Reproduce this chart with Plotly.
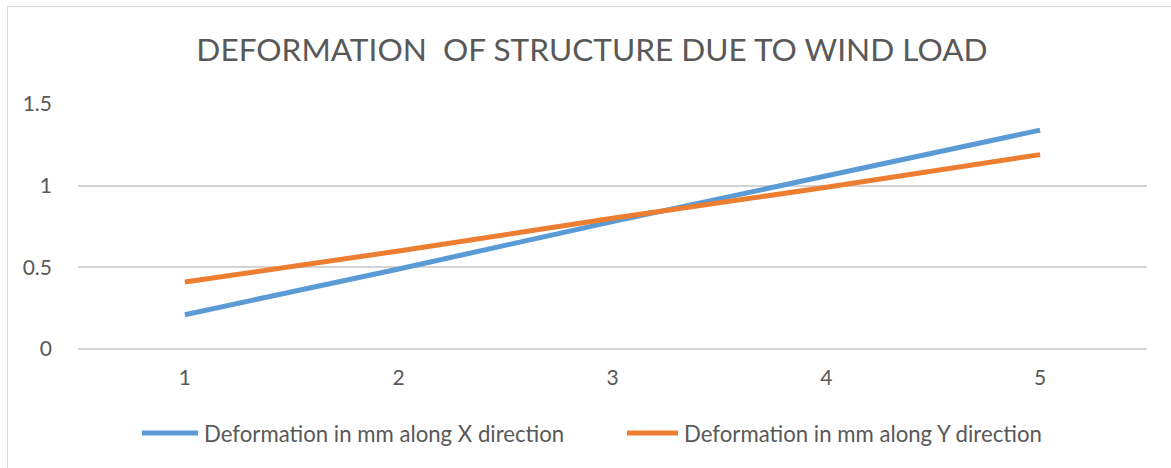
import plotly.graph_objects as go

categories = [1, 2, 3, 4, 5]
series_names = ["Deformation in mm along X direction", "Deformation in mm along Y direction"]
x_dir = [0.21, 0.49, 0.78, 1.06, 1.34]
y_dir = [0.41, 0.60, 0.80, 0.99, 1.19]
colors = ["#5B9BD5", "#ED7D31"]
y_ticks = [0, 0.5, 1, 1.5]
y_tick_text = ["0", "0.5", "1", "1.5"]

W, H = 1171, 468
L, R, T, B = 78, 24, 104, 119
pw, ph = W - L - R, H - T - B

def px_x(p):
    return (p - L) / pw

def px_y(p):
    return (H - B - p) / ph

FONT = "Lato, Carlito, 'Open Sans', sans-serif"
GRAY = "#595959"

fig = go.Figure()
for name, vals, c in zip(series_names, [x_dir, y_dir], colors):
    fig.add_trace(go.Scatter(x=categories, y=vals, mode="lines", name=name,
                             line=dict(color=c, width=5), showlegend=False))

# manual legend (Excel-style long line samples)
legend_items = [(142, 198, 202), (627, 678, 682)]
shapes = []
annotations = []
for (x0, x1, xt), name, c in zip(legend_items, series_names, colors):
    shapes.append(dict(type="line", xref="paper", yref="paper",
                       x0=px_x(x0), x1=px_x(x1), y0=px_y(433), y1=px_y(433),
                       line=dict(color=c, width=5)))
    annotations.append(dict(xref="paper", yref="paper", x=px_x(xt), y=px_y(433),
                            xanchor="left", yanchor="middle", text=name, showarrow=False,
                            font=dict(family=FONT, size=22.2, color=GRAY)))

# chart border
shapes.append(dict(type="rect", xref="paper", yref="paper",
                   x0=px_x(7.5), x1=px_x(1180), y0=px_y(480), y1=px_y(6.5),
                   line=dict(color="#D9D9D9", width=1), fillcolor="rgba(0,0,0,0)", layer="below"))

fig.update_layout(
    width=W, height=H,
    margin=dict(l=L, r=R, t=T, b=B),
    paper_bgcolor="white", plot_bgcolor="white",
    title=dict(text="DEFORMATION  OF STRUCTURE DUE TO WIND LOAD",
               x=592 / W, xanchor="center", y=1 - 50 / H, yanchor="middle",
               font=dict(family=FONT, size=31.6, color=GRAY)),
    xaxis=dict(range=[0.5, 5.5], tickvals=categories, ticktext=[str(c) for c in categories],
               showgrid=False, zeroline=False, showline=False, ticks="",
               tickfont=dict(family=FONT, size=21, color=GRAY), ticklabelstandoff=14),
    yaxis=dict(range=[0, 1.5], tickvals=y_ticks, ticktext=y_tick_text,
               showgrid=True, gridcolor="#D4D4D4", gridwidth=1.5, zeroline=True,
               zerolinecolor="#D4D4D4", zerolinewidth=1.5, showline=False, ticks="",
               tickfont=dict(family=FONT, size=21, color=GRAY), ticklabelstandoff=25),
    shapes=shapes, annotations=annotations,
    showlegend=False,
)

fig.write_html("out.html", config={"displayModeBar": False},
               post_script="document.body.style.margin='0';document.body.style.overflow='hidden';")
